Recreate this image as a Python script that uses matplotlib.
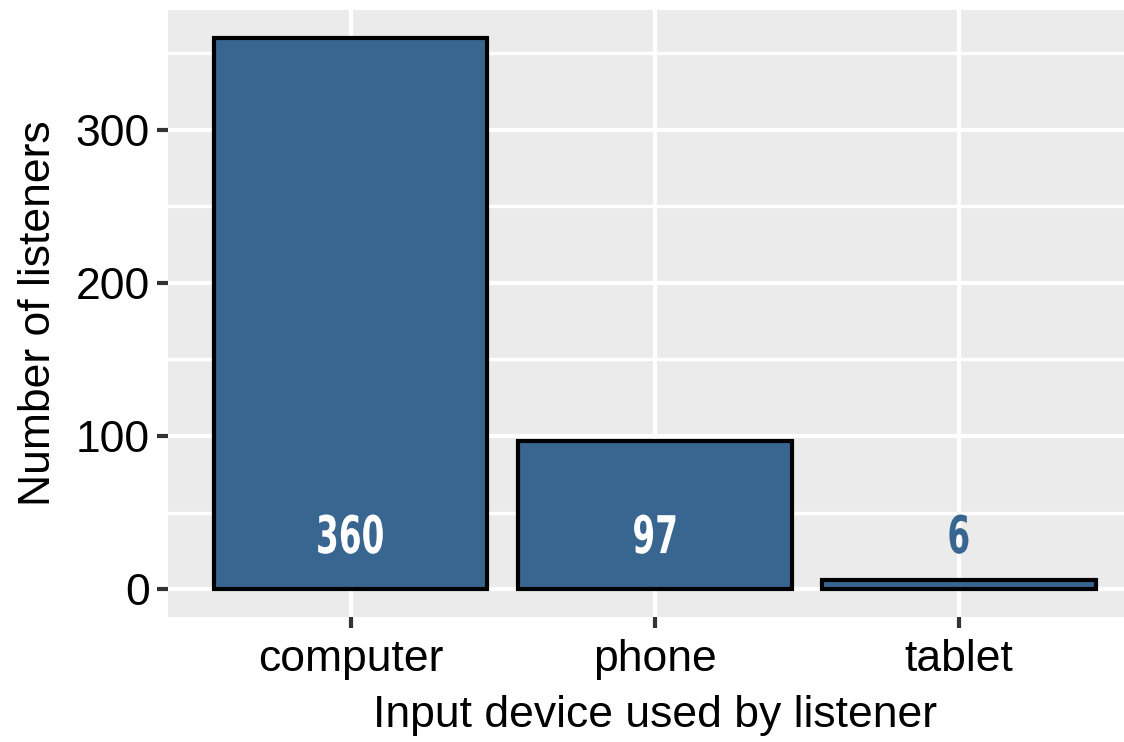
import matplotlib
matplotlib.use("Agg")
import matplotlib.pyplot as plt
from matplotlib.textpath import TextPath
from matplotlib.patches import PathPatch
from matplotlib.font_manager import FontProperties
from matplotlib.transforms import Affine2D

devices = ["computer", "phone", "tablet"]
counts = [360, 97, 6]
yticks = [0, 100, 200, 300]

bar_color = "#386690"
panel_bg = "#EBEBEB"

plt.rcParams['font.family'] = ['Liberation Sans', 'DejaVu Sans']

fig = plt.figure(figsize=(11.24, 7.42), dpi=100)
W, H = 1124, 742
left, right, top, bottom = 168, 1124, 10, 617
ax = fig.add_axes([left / W, 1 - bottom / H, (right - left) / W, (bottom - top) / H])
ax.set_facecolor(panel_bg)

x = list(range(1, len(devices) + 1))
ax.bar(x, counts, width=0.9, color=bar_color, edgecolor="black", linewidth=3.0, zorder=3)

ax.set_xlim(0.4, 1 + (1124 - 351) / 304)
ax.set_ylim(-18, 378)

# condensed bold value labels (horizontally squeezed text paths, sized in pixels)
fp = FontProperties(family="DejaVu Sans", weight="bold")
label_size_px = 52
squeeze = 0.63
for xi, c in zip(x, counts):
    inside = c > 50
    tp = TextPath((0, 0), str(c), size=label_size_px, prop=fp)
    bb = tp.get_extents()
    cx = (bb.x0 + bb.x1) / 2
    px, py = ax.transData.transform((xi, 23.7))
    tr = Affine2D().translate(-cx, 0).scale(squeeze, 1).translate(px, py)
    patch = PathPatch(tp, transform=tr, facecolor="white" if inside else bar_color,
                      edgecolor="none", zorder=4)
    patch.set_clip_on(False)
    fig.add_artist(patch)

ax.set_xticks(x)
ax.set_xticklabels(devices)
ax.set_yticks(yticks)
ax.set_yticks([50, 150, 250, 350], minor=True)

ax.grid(True, which="major", color="white", linewidth=3.0, zorder=1)
ax.grid(True, which="minor", axis="y", color="white", linewidth=2.4, zorder=1)
ax.set_axisbelow(True)
for s in ax.spines.values():
    s.set_visible(False)

ax.tick_params(axis="both", which="major", length=8, width=3.0, color="#333333",
               labelsize=32, labelcolor="black")
ax.tick_params(axis="x", which="major", pad=8)
ax.tick_params(axis="y", which="major", pad=5)
ax.tick_params(axis="y", which="minor", length=0)

ax.set_xlabel("Input device used by listener", fontsize=32, color="black")
ax.set_ylabel("Number of listeners", fontsize=32, color="black", labelpad=12)
ax.xaxis.set_label_coords((655 - left) / (right - left), -(695 - bottom) / (bottom - top))

fig.savefig("out.png", dpi=100)
